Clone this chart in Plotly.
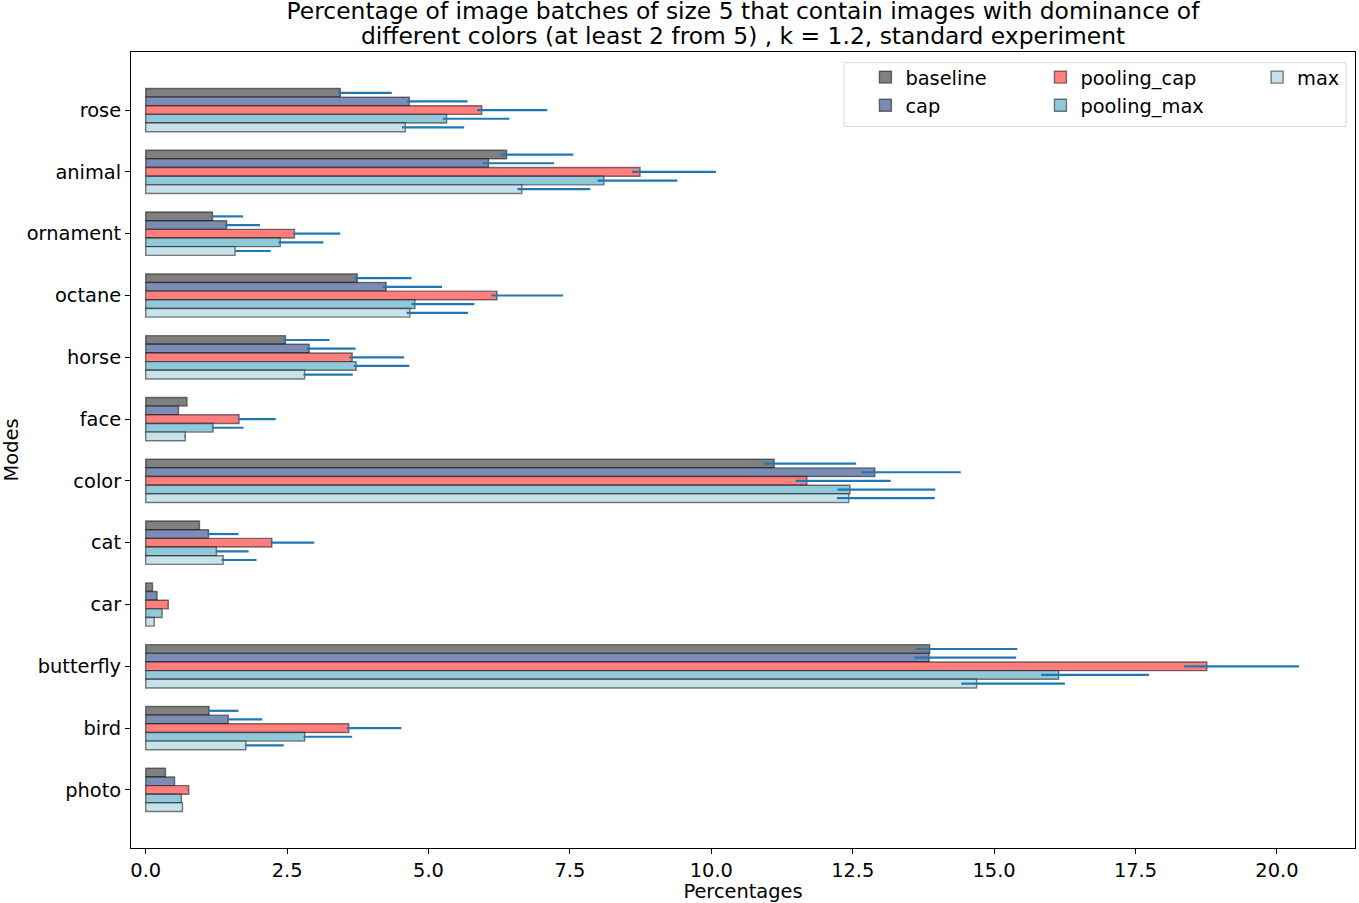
import plotly.graph_objects as go

# categories, listed top to bottom as they appear in the chart
modes = ["rose", "animal", "ornament", "octane", "horse", "face",
         "color", "cat", "car", "butterfly", "bird", "photo"]

experiments = ["baseline", "cap", "pooling_cap", "pooling_max", "max"]

title_lines = [
    "Percentage of image batches of size 5 that contain images with dominance of",
    "different colors (at least 2 from 5) , k = 1.2, standard experiment",
]

baseline = [3.44, 6.38, 1.18, 3.74, 2.47, 0.73, 11.11, 0.95, 0.12, 13.86, 1.12, 0.35]
baseline_err_hi = [0.91, 1.18, 0.54, 0.96, 0.78, 0.0, 1.45, 0.0, 0.0, 1.55, 0.52, 0.0]
baseline_err_lo = [0.04, 0.10, 0.02, 0.05, 0.03, 0.02, 0.19, 0.0, 0.01, 0.25, 0.02, 0.01]

cap = [4.66, 6.06, 1.43, 4.25, 2.89, 0.58, 12.89, 1.11, 0.20, 13.85, 1.46, 0.51]
cap_err_hi = [1.03, 1.16, 0.59, 0.99, 0.82, 0.0, 1.52, 0.53, 0.0, 1.54, 0.60, 0.0]
cap_err_lo = [0.04, 0.10, 0.03, 0.06, 0.04, 0.01, 0.24, 0.01, 0.01, 0.26, 0.0, 0.0]

pooling_cap = [5.94, 8.74, 2.63, 6.21, 3.65, 1.65, 11.69, 2.23, 0.40, 18.76, 3.59, 0.76]
pooling_cap_err_hi = [1.16, 1.34, 0.81, 1.17, 0.92, 0.65, 1.48, 0.75, 0.0, 1.63, 0.93, 0.0]
pooling_cap_err_lo = [0.08, 0.14, 0.03, 0.10, 0.05, 0.02, 0.20, 0.02, 0.01, 0.40, 0.04, 0.02]

pooling_max = [5.32, 8.10, 2.38, 4.76, 3.72, 1.19, 12.45, 1.25, 0.29, 16.14, 2.81, 0.63]
pooling_max_err_hi = [1.11, 1.30, 0.76, 1.05, 0.94, 0.54, 1.51, 0.57, 0.0, 1.60, 0.84, 0.0]
pooling_max_err_lo = [0.07, 0.11, 0.03, 0.06, 0.04, 0.02, 0.22, 0.0, 0.0, 0.31, 0.02, 0.0]

max_ = [4.59, 6.65, 1.58, 4.67, 2.81, 0.70, 12.43, 1.37, 0.15, 14.69, 1.77, 0.65]
max_err_hi = [1.04, 1.21, 0.63, 1.03, 0.85, 0.0, 1.52, 0.59, 0.0, 1.56, 0.67, 0.0]
max_err_lo = [0.06, 0.08, 0.0, 0.06, 0.02, 0.02, 0.21, 0.03, 0.0, 0.27, 0.01, 0.0]

series = [
    (baseline, baseline_err_hi, baseline_err_lo),
    (cap, cap_err_hi, cap_err_lo),
    (pooling_cap, pooling_cap_err_hi, pooling_cap_err_lo),
    (pooling_max, pooling_max_err_hi, pooling_max_err_lo),
    (max_, max_err_hi, max_err_lo),
]

colors = ["#808080", "#7b8db5", "#ff7f7f", "#91c8da", "#c8e2ea"]
legend_ids = ["legend", "legend", "legend2", "legend2", "legend3"]

FONT = "DejaVu Sans"
bar_h = 0.14

fig = go.Figure()
for i, (name, (vals, hi, lo)) in enumerate(zip(experiments, series)):
    fig.add_trace(
        go.Bar(
            y=modes,
            x=vals,
            orientation="h",
            name=name,
            width=bar_h,
            offset=0.21 - i * bar_h,
            marker=dict(color=colors[i], line=dict(color="rgba(0,0,0,0.5)", width=1.4)),
            error_x=dict(
                type="data",
                symmetric=False,
                array=hi,
                arrayminus=lo,
                color="#1f77b4",
                thickness=2.2,
                width=0,
            ),
            legend=legend_ids[i],
        )
    )

legend_style = dict(
    font=dict(family=FONT, size=19.4, color="black"),
    bgcolor="rgba(0,0,0,0)",
    yanchor="top",
    y=0.9925,
    xanchor="left",
    tracegroupgap=0,
)

fig.update_layout(
    width=1359,
    height=903,
    barmode="overlay",
    paper_bgcolor="white",
    plot_bgcolor="white",
    font=dict(family=FONT, size=19.4, color="black"),
    margin=dict(l=129, r=3, t=52, b=54),
    # plotly spaces <br> lines too far apart, so the second title line is an annotation
    title=dict(
        text=title_lines[0],
        x=0.5,
        xref="paper",
        xanchor="center",
        y=0.988,
        yref="container",
        yanchor="middle",
        font=dict(family=FONT, size=23.4, color="black"),
    ),
    annotations=[
        dict(
            text=title_lines[1],
            xref="paper", yref="paper",
            x=0.5, y=1.0203,
            xanchor="center", yanchor="middle",
            showarrow=False,
            font=dict(family=FONT, size=23.4, color="black"),
        )
    ],
    legend=dict(x=0.600, **legend_style),
    legend2=dict(x=0.743, **legend_style),
    legend3=dict(x=0.920, **legend_style),
    shapes=[
        dict(
            type="rect", xref="paper", yref="paper",
            x0=0.5825, x1=0.9927, y0=0.9063, y1=0.9866,
            line=dict(color="#d6d6d6", width=1),
            fillcolor="rgba(255,255,255,0.8)",
            layer="below",
        )
    ],
)

fig.update_xaxes(
    range=[-0.26, 21.38],
    tick0=0,
    dtick=2.5,
    tickformat=".1f",
    ticks="outside",
    ticklen=5,
    tickcolor="black",
    showgrid=False,
    zeroline=False,
    showline=True,
    linecolor="black",
    linewidth=1,
    mirror=True,
    title=dict(text="Percentages", font=dict(family=FONT, size=19.4), standoff=4),
)
fig.update_yaxes(
    categoryorder="array",
    categoryarray=modes[::-1],
    range=[-0.94, 11.94],
    ticks="outside",
    ticklen=5,
    tickcolor="black",
    showgrid=False,
    zeroline=False,
    showline=True,
    linecolor="black",
    linewidth=1,
    mirror=True,
    title=dict(text="Modes", font=dict(family=FONT, size=19.4), standoff=10),
)

# the page body has a default 8px margin; drop it so the figure fills the window
fig.write_html(
    "out.html",
    config={"displayModeBar": False},
    post_script="document.body.style.margin='0';",
)
